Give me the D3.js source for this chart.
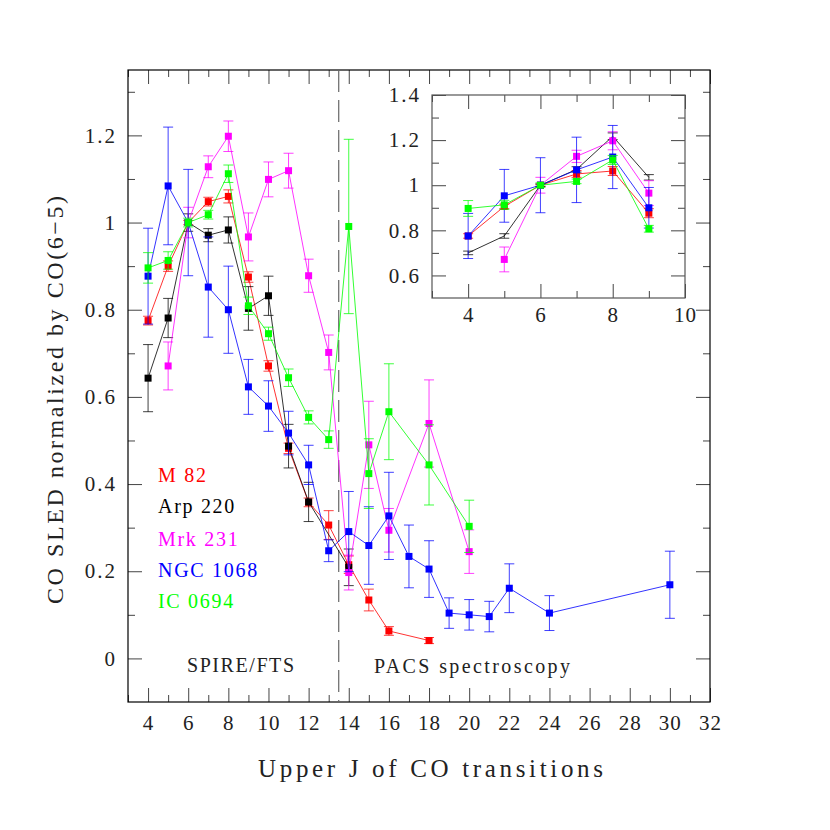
<!DOCTYPE html>
<html><head><meta charset="utf-8">
<script src="https://cdn.jsdelivr.net/npm/d3@7"></script>
<style>html,body{margin:0;padding:0;background:#fff}</style>
</head><body>
<script>
// ---- data (main panel) ----
const seriesNames = ["M 82","Arp 220","Mrk 231","NGC 1068","IC 0694"];
const seriesColors = ["#ff0000","#000000","#ff00ff","#0000ff","#00ff00"];

const m82J   = [4,5,6,7,8,9,10,11,12,13,14,15,16,18];
const m82V   = [0.775,0.900,1.0,1.048,1.060,0.875,0.671,0.482,0.358,0.306,0.215,0.134,0.063,0.041];
const m82E   = [0.010,0.012,0.005,0.010,0.015,0.012,0.012,0.012,0.010,0.033,0.020,0.025,0.010,0.007];

const arpJ   = [4,5,6,7,8,9,10,11,12,14];
const arpV   = [0.643,0.781,1.0,0.971,0.983,0.803,0.832,0.487,0.359,0.209];
const arpE   = [0.077,0.045,0.020,0.015,0.030,0.050,0.045,0.050,0.045,0.042];

const mrkJ   = [5,6,7,8,9,10,11,12,13,14,15,16,18,20];
const mrkV   = [0.671,1.0,1.128,1.198,0.967,1.099,1.119,0.878,0.702,0.197,0.490,0.294,0.539,0.245];
const mrkE   = [0.055,0.035,0.025,0.035,0.055,0.040,0.040,0.038,0.040,0.040,0.100,0.050,0.100,0.050];

const ngcJ   = [4,5,6,7,8,9,10,11,12,13,14,15,16,17,18,19,20,21,22,24,30];
const ngcV   = [0.877,1.084,1.0,0.852,0.800,0.623,0.579,0.517,0.444,0.247,0.291,0.259,0.327,0.234,0.205,0.104,0.100,0.096,0.161,0.104,0.169];
const ngcE   = [0.110,0.135,0.122,0.115,0.100,0.063,0.058,0.050,0.045,0.025,0.092,0.089,0.100,0.072,0.065,0.035,0.035,0.035,0.056,0.040,0.077];

const icJ    = [4,5,6,7,8,9,10,11,12,13,14,15,16,18,20];
const icV    = [0.896,0.913,1.0,1.018,1.112,0.809,0.745,0.644,0.553,0.502,0.991,0.424,0.566,0.444,0.303];
const icE    = [0.035,0.020,0.010,0.010,0.020,0.020,0.015,0.020,0.015,0.020,0.200,0.080,0.110,0.092,0.060];

// ---- data (inset) ----
const insJ    = [4,5,6,7,8,9];
const insM82V = [0.775,0.906,1.0,1.050,1.063,0.876];
const insM82E = [0.010,0.010,0.005,0.015,0.020,0.020];
const insArpV = [0.700,0.775,1.0,1.070,1.217,1.035];
const insArpE = [0.008,0.010,0.005,0.012,0.015,0.012];
const insMrkJ = [5,6,7,8,9];
const insMrkV = [0.671,1.0,1.128,1.197,0.965];
const insMrkE = [0.055,0.035,0.027,0.040,0.055];
const insNgcV = [0.775,0.953,1.0,1.068,1.125,0.900];
const insNgcE = [0.100,0.117,0.122,0.145,0.140,0.090];
const insIcV  = [0.897,0.913,1.0,1.017,1.112,0.807];
const insIcE  = [0.035,0.020,0.010,0.010,0.020,0.015];

// ---- tick labels ----
const xMajor = [4,6,8,10,12,14,16,18,20,22,24,26,28,30,32];
const yMajor = [0,0.2,0.4,0.6,0.8,1.0,1.2];
const insXMajor = [4,6,8,10];
const insYMajor = [0.6,0.8,1.0,1.2,1.4];

const boundaryJ = 13.5;
const regionLabels = ["SPIRE/FTS","PACS spectroscopy"];
const xTitle = "Upper J of CO transitions";
const yTitle = "CO SLED normalized by CO(6\u22125)";

const zip = (J,V,E) => J.map((j,i)=>({j, v:V[i], e:E[i]}));
const mainSeries = [
  zip(m82J,m82V,m82E), zip(arpJ,arpV,arpE), zip(mrkJ,mrkV,mrkE),
  zip(ngcJ,ngcV,ngcE), zip(icJ,icV,icE)
];
const insetSeries = [
  {d: zip(insJ,insM82V,insM82E), mk:true},
  {d: zip(insJ,insArpV,insArpE), mk:false},
  {d: zip(insMrkJ,insMrkV,insMrkE), mk:true},
  {d: zip(insJ,insNgcV,insNgcE), mk:true},
  {d: zip(insJ,insIcV,insIcE), mk:true}
];

const FONT = "'Liberation Serif', 'Times New Roman', serif";
const svg = d3.select("body").append("svg").attr("width",830).attr("height",830)
  .style("font-family", FONT);
svg.append("rect").attr("width",830).attr("height",830).attr("fill","#fff");

function drawPanel(g, x, y, opts) {
  const [x0,x1] = x.range(), [y0,y1] = y.range(); // y0 bottom, y1 top
  const maj = 14, mn = 7, tc = "#444";
  const style = sel => {
    sel.select(".domain").remove();
    sel.selectAll(".tick line").attr("stroke", tc).attr("stroke-width",1);
  };
  const mkTicks = (lo,hi,step) => d3.range(Math.ceil(lo/step-1e-9)*step, hi+1e-9, step).map(v=>+v.toFixed(4));
  const xd = x.domain(), yd = y.domain();
  const xMin = mkTicks(xd[0],xd[1],1).filter(v=>!opts.xMajor.some(m=>Math.abs(m-v)<1e-6));
  const yMin = mkTicks(yd[0],yd[1],0.1).filter(v=>!opts.yMajor.some(m=>Math.abs(m-v)<1e-6) && (v>yd[0]+1e-6));
  g.append("g").attr("transform",`translate(0,${y0})`)
    .call(d3.axisBottom(x).tickValues(opts.xMajor).tickSize(-maj).tickPadding(opts.xPad).tickFormat(d3.format("d")))
    .call(style)
    .call(s=>s.selectAll("text").attr("font-family",FONT).attr("font-size",21).attr("fill","#222").attr("letter-spacing","1px"));
  g.append("g").attr("transform",`translate(0,${y0})`)
    .call(d3.axisBottom(x).tickValues(xMin).tickSize(-mn).tickFormat("")).call(style);
  g.append("g").attr("transform",`translate(0,${y1})`)
    .call(d3.axisTop(x).tickValues(opts.xMajor).tickSize(-maj).tickFormat("")).call(style);
  g.append("g").attr("transform",`translate(0,${y1})`)
    .call(d3.axisTop(x).tickValues(xMin).tickSize(-mn).tickFormat("")).call(style);
  g.append("g").attr("transform",`translate(${x0},0)`)
    .call(d3.axisLeft(y).tickValues(opts.yMajor).tickSize(-maj).tickPadding(opts.yPad).tickFormat(v=>String(+v.toFixed(2))))
    .call(style)
    .call(s=>s.selectAll("text").attr("font-family",FONT).attr("font-size",21).attr("fill","#222").attr("letter-spacing","2px").attr("dx","2px"));
  g.append("g").attr("transform",`translate(${x0},0)`)
    .call(d3.axisLeft(y).tickValues(yMin).tickSize(-mn).tickFormat("")).call(style);
  g.append("g").attr("transform",`translate(${x1},0)`)
    .call(d3.axisRight(y).tickValues(opts.yMajor).tickSize(-maj).tickFormat("")).call(style);
  g.append("g").attr("transform",`translate(${x1},0)`)
    .call(d3.axisRight(y).tickValues(yMin).tickSize(-mn).tickFormat("")).call(style);
  g.append("rect").attr("x",x0).attr("y",y1).attr("width",x1-x0).attr("height",y0-y1)
    .attr("fill","none").attr("stroke",opts.frame).attr("stroke-width",1.2);
}

function drawSeries(g, x, y, data, color, withMarkers) {
  const line = d3.line().x(d=>x(d.j)).y(d=>y(d.v));
  g.append("path").datum(data).attr("d",line).attr("fill","none")
    .attr("stroke",color).attr("stroke-width",1).attr("stroke-opacity",0.8);
  const eb = g.append("g").attr("stroke",color).attr("stroke-width",1).attr("stroke-opacity",0.75);
  data.forEach(d=>{
    const xx = x(d.j), ya = y(d.v-d.e), yb = y(d.v+d.e);
    eb.append("line").attr("x1",xx).attr("x2",xx).attr("y1",ya).attr("y2",yb);
    eb.append("line").attr("x1",xx-5).attr("x2",xx+5).attr("y1",ya).attr("y2",ya);
    eb.append("line").attr("x1",xx-5).attr("x2",xx+5).attr("y1",yb).attr("y2",yb);
  });
  if (withMarkers) {
    g.append("g").selectAll("rect").data(data).join("rect")
      .attr("x",d=>x(d.j)-3.5).attr("y",d=>y(d.v)-3.5).attr("width",7).attr("height",7)
      .attr("fill",color);
  }
}

// ---- main panel ----
const x = d3.scaleLinear([3,32],[128,710]);
const y = d3.scaleLinear([-0.1,1.35],[702,70]);
const gMain = svg.append("g");
drawPanel(gMain, x, y, {xMajor, yMajor, xPad:13, yPad:13, frame:"#000"});

gMain.append("line").attr("x1",x(boundaryJ)).attr("x2",x(boundaryJ)).attr("y1",y(1.35)).attr("y2",y(-0.1))
  .attr("stroke","#666").attr("stroke-width",1.2).attr("stroke-dasharray","22,8");

mainSeries.forEach((s,i)=>drawSeries(gMain, x, y, s, seriesColors[i], true));

const legendBase = [482, 513, 545.5, 577, 608];
seriesNames.forEach((n,i)=>{
  gMain.append("text").attr("x",158).attr("y",legendBase[i]).text(n)
    .attr("font-size",20).attr("letter-spacing","1.7px").attr("fill",seriesColors[i]);
});
gMain.append("text").attr("x",187).attr("y",672).text(regionLabels[0])
  .attr("font-size",20).attr("fill","#222").attr("textLength",107).attr("lengthAdjust","spacing");
gMain.append("text").attr("x",374).attr("y",673).text(regionLabels[1])
  .attr("font-size",20).attr("fill","#222").attr("textLength",196).attr("lengthAdjust","spacing");

svg.append("text").attr("x",258).attr("y",777).text(xTitle)
  .attr("font-size",25).attr("fill","#222").attr("textLength",345).attr("lengthAdjust","spacing");
svg.append("text").attr("transform","translate(63,604) rotate(-90)").text(yTitle)
  .attr("font-size",24).attr("fill","#222").attr("textLength",408).attr("lengthAdjust","spacing");

// ---- inset ----
const xi = d3.scaleLinear([3,10],[432,685]);
const yi = d3.scaleLinear([0.5,1.4],[298,95]);
const gIn = svg.append("g");
gIn.append("rect").attr("x",432).attr("y",95).attr("width",253).attr("height",203).attr("fill","#fff");
drawPanel(gIn, xi, yi, {xMajor:insXMajor, yMajor:insYMajor, xPad:9, yPad:13, frame:"#555"});
insetSeries.forEach((s,i)=>drawSeries(gIn, xi, yi, s.d, seriesColors[i], s.mk));
</script>
</body></html>
